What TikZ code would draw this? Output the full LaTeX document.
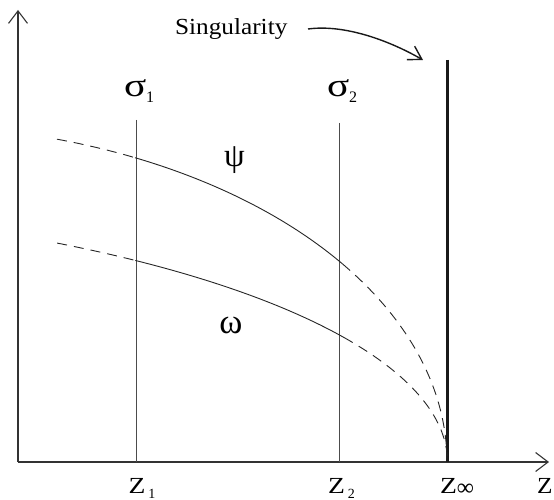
\documentclass[tikz,border=0pt]{standalone}
\usepackage{fontspec}
\setmainfont{Liberation Serif}
\usetikzlibrary{arrows.meta}
\begin{document}
\begin{tikzpicture}[x=1pt,y=-1pt,
  axis/.style={line width=1.1pt, draw=black!80, -{Straight Barb[length=12.5pt,width=19pt,line width=1.1pt]}},
  level/.style={line width=1pt, draw=black!70},
  curve/.style={line width=0.9pt, draw=black!85},
  dashcurve/.style={curve, dash pattern=on 10pt off 7pt},
  lbl/.style={inner sep=0pt, outer sep=0pt},
  zfont/.style={font=\fontsize{23}{23}\selectfont},
  gfont/.style={font=\fontsize{33}{33}\selectfont}]
\useasboundingbox (0,0) rectangle (554,500);
% axes
\coordinate (O) at (18,462);
\coordinate (ytip) at (18,10);
\coordinate (xtip) at (549,462);
\draw[axis] (O) -- (ytip);
\draw[axis] (O) -- (xtip);
% vertical lines
\coordinate (s1top) at (136,120);
\coordinate (s1bot) at (136,462);
\coordinate (s2top) at (339,123);
\coordinate (s2bot) at (339,462);
\coordinate (singtop) at (447.5,60);
\coordinate (singbot) at (447.5,462);
\draw[level] (s1top) -- (s1bot);
\draw[level] (s2top) -- (s2bot);
\draw[line width=2.6pt, draw=black!90] (singtop) -- (singbot);
% psi curve
\draw[dashcurve] plot[domain=73.32:64.56, samples=20, smooth] ({-100+547*cos(\x)},{462-337*sin(\x)});
\draw[curve] plot[domain=64.56:36.0, samples=40, smooth] ({-100+547*cos(\x)},{462-337*sin(\x)});
\draw[dashcurve] plot[domain=36.0:0, samples=50, smooth] ({-100+547*cos(\x)},{462-337*sin(\x)});
% omega curve
\draw[dashcurve] plot[domain=57.35:50.83, samples=20, smooth] ({-400+847.5*cos(\x)},{462-260*sin(\x)});
\draw[curve] plot[domain=50.83:28.6, samples=40, smooth] ({-400+847.5*cos(\x)},{462-260*sin(\x)});
\draw[dashcurve] plot[domain=28.6:0, samples=50, smooth] ({-400+847.5*cos(\x)},{462-260*sin(\x)});
% labels
\node[lbl, anchor=base west, font=\fontsize{23}{23}\selectfont] (sing) at (175,35) {\scalebox{1.1}[1]{Singularity}};
\coordinate (arrstart) at (308,29);
\coordinate (arrend) at (423,60);
\draw[line width=1.4pt, draw=black!90, -{Straight Barb[length=12.8pt,width=15.6pt,line width=1.4pt]}]
  (arrstart) .. controls (345,24) and (390,41) .. (arrend);
\node[lbl, anchor=base west, gfont] (sig1) at (124,97) {\scalebox{1.25}[1]{σ}\raisebox{-6pt}{\fontsize{16}{16}\selectfont 1}};
\node[lbl, anchor=base west, gfont] (sig2) at (327,97) {\scalebox{1.25}[1]{σ}\raisebox{-6pt}{\fontsize{16}{16}\selectfont 2}};
\node[lbl, font=\fontsize{33}{33}\selectfont] (psi) at (234.5,160.5) {ψ};
\node[lbl, font=\fontsize{35}{35}\selectfont] (omega) at (231,325) {ω};
\node[lbl, anchor=base west, zfont] (z1) at (128.5,493) {\scalebox{1.2}[1]{Z}\hspace{3pt}\raisebox{-5pt}{\fontsize{14}{14}\selectfont 1}};
\node[lbl, anchor=base west, zfont] (z2) at (328,493) {\scalebox{1.2}[1]{Z}\hspace{3pt}\raisebox{-5pt}{\fontsize{14}{14}\selectfont 2}};
\node[lbl, anchor=base west, zfont] (zinf) at (440,493) {\scalebox{1.2}[1]{Z}\raisebox{-2pt}{\fontsize{24}{24}\selectfont ∞}};
\node[lbl, anchor=base west, zfont] (zz) at (537,493) {\scalebox{1.1}[1]{Z}};
\end{tikzpicture}
\end{document}
